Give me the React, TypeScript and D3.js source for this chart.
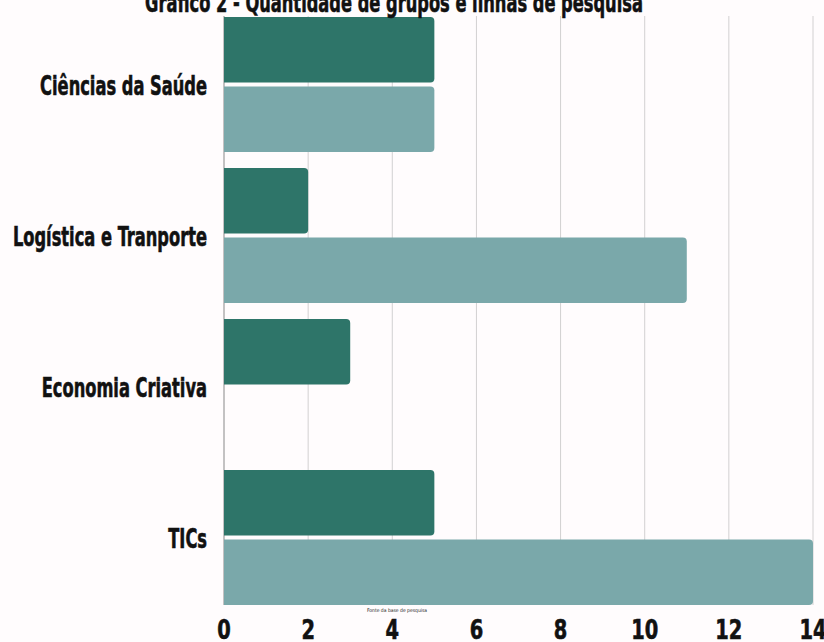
import React from "react"
import * as d3 from "d3"

const categories = ["Ciências da Saúde", "Logística e Tranporte", "Economia Criativa", "TICs"]
const seriesNames = ["grupos", "linhas"]
const grupos = [5, 2, 3, 5]
const linhas = [5, 11, 0, 14]
const xTicks = [0, 2, 4, 6, 8, 10, 12, 14]
const title = "Gráfico 2 - Quantidade de grupos e linhas de pesquisa"
const sourceNote = "Fonte da base de pesquisa"

const W = 824
const H = 642
const colors = ["#2e7569", "#7aa8aa"]
const FONT = "'DejaVu Sans Condensed', 'DejaVu Sans', sans-serif"
const SX = 0.67

// rounded on the right side only
const barPath = (x0: number, x1: number, y: number, h: number, r: number) => {
  const w = x1 - x0
  if (w <= 0) return ""
  const rr = Math.min(r, w, h / 2)
  return `M${x0},${y}H${x1 - rr}Q${x1},${y} ${x1},${y + rr}V${y + h - rr}Q${x1},${y + h} ${x1 - rr},${y + h}H${x0}Z`
}

const Label: React.FC<{ x: number; y: number; size: number; anchor: string; sx?: number; children: any }> = ({ x, y, size, anchor, sx = SX, children }) => (
  <text
    transform={`translate(${x},${y}) scale(${sx},1)`}
    textAnchor={anchor}
    fontFamily={FONT}
    fontWeight="bold"
    fontSize={size}
    fill="#111"
    stroke="#111"
    strokeWidth={0.6}
  >
    {children}
  </text>
)

const App: React.FC = () => {
  const x = d3.scaleLinear().domain([0, 14]).range([224, 813])
  const y = d3.scaleBand<string>().domain(categories).range([17, 605]).paddingInner(16 / 151).paddingOuter(0)
  const inner = d3.scaleBand<string>().domain(seriesNames).range([0, y.bandwidth()]).paddingInner(4 / 69)
  const values = [grupos, linhas]

  return (
    <div style={{ position: "fixed", left: 0, top: 0 }}>
      <svg width={W} height={H} style={{ display: "block" }}>
        <rect width={W} height={H} fill="#fffcfd" />
        {xTicks.filter((t) => t > 0).map((t) => (
          <line key={t} x1={x(t)} x2={x(t)} y1={16} y2={605} stroke="#d2d0d1" strokeWidth={1} />
        ))}
        <line x1={x(0)} x2={x(0)} y1={16} y2={605} stroke="#888" strokeWidth={1} />
        {categories.map((c, i) =>
          seriesNames.map((s, j) => (
            <path
              key={c + s}
              d={barPath(x(0), x(values[j][i]), (y(c) ?? 0) + (inner(s) ?? 0), inner.bandwidth(), 4)}
              fill={colors[j]}
            />
          ))
        )}
        {categories.map((c) => (
          <Label key={c} x={207} y={(y(c) ?? 0) + y.bandwidth() / 2 + 10} size={27} anchor="end">
            {c}
          </Label>
        ))}
        {xTicks.map((t) => (
          <Label key={t} x={x(t)} y={639} size={27} anchor="middle" sx={0.8}>
            {t}
          </Label>
        ))}
        <Label x={394} y={12} size={27} anchor="middle">
          {title}
        </Label>
        <text x={397} y={612} textAnchor="middle" fontFamily={FONT} fontSize={5} fill="#222">
          {sourceNote}
        </text>
      </svg>
    </div>
  )
}

export default App
